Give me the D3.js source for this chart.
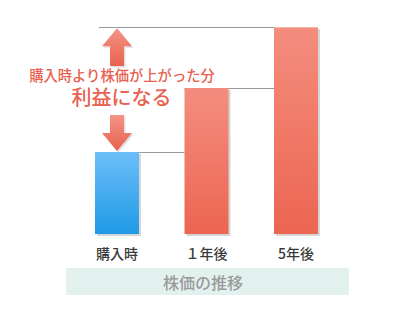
<!DOCTYPE html>
<html>
<head>
<meta charset="utf-8">
<script src="https://cdn.jsdelivr.net/npm/d3@7"></script>
<style>
  body { margin: 0; background: #fff; }
  svg { display: block; font-family: "Noto Sans CJK JP", sans-serif; }
</style>
</head>
<body>
<script>
const categories = ['購入時', '１年後', '5年後'];
const prices = [100, 178, 252];
const noteLines = ['購入時より株価が上がった分', '利益になる'];
const axisTitle = '株価の推移';

const width = 393;
const height = 311;

const svg = d3.select('body').append('svg')
  .attr('width', width)
  .attr('height', height);

const defs = svg.append('defs');

function vGrad(id, top, bottom) {
  const g = defs.append('linearGradient')
    .attr('id', id)
    .attr('x1', 0).attr('y1', 0).attr('x2', 0).attr('y2', 1);
  g.append('stop').attr('offset', '0%').attr('stop-color', top);
  g.append('stop').attr('offset', '100%').attr('stop-color', bottom);
}
vGrad('blue', '#6dbef8', '#1f9ae6');
vGrad('red', '#f48d7e', '#ec6552');
vGrad('arrow', '#f39485', '#e9614f');

const x = d3.scalePoint()
  .domain(categories)
  .range([117, 296]);

const y = d3.scaleLinear()
  .domain([0, 100])
  .range([234, 152]);

const barW = 44;

// guide lines from the top of each bar to the next one
const guides = [
  { x1: x(categories[0]) + barW / 2, x2: x(categories[1]) - barW / 2, v: prices[0] },
  { x1: x(categories[1]) - barW / 2, x2: x(categories[2]) - barW / 2, v: prices[1] },
  { x1: 99, x2: x(categories[2]) - barW / 2, v: prices[2] }
];
svg.append('g').selectAll('line')
  .data(guides)
  .enter().append('line')
    .attr('x1', d => d.x1)
    .attr('x2', d => d.x2)
    .attr('y1', d => Math.round(y(d.v)) + 0.5)
    .attr('y2', d => Math.round(y(d.v)) + 0.5)
    .attr('stroke', '#999')
    .attr('stroke-width', 1);

const bars = svg.append('g');
// soft shadow
bars.selectAll('.shadow')
  .data(prices)
  .enter().append('rect')
    .attr('class', 'shadow')
    .attr('x', (d, i) => x(categories[i]) - barW / 2 + 2)
    .attr('y', d => y(d) + 2)
    .attr('width', barW)
    .attr('height', d => y(0) - y(d))
    .attr('fill', 'rgba(0,0,0,0.16)');

bars.selectAll('.bar')
  .data(prices)
  .enter().append('rect')
    .attr('class', 'bar')
    .attr('x', (d, i) => x(categories[i]) - barW / 2)
    .attr('y', d => y(d))
    .attr('width', barW)
    .attr('height', d => y(0) - y(d))
    .attr('fill', (d, i) => i === 0 ? 'url(#blue)' : 'url(#red)');

// arrows
const ax = x(categories[0]);
function upArrow(tip, base) {
  const hb = tip + 18;
  return `M${ax},${tip} L${ax + 15},${hb} L${ax + 7},${hb} L${ax + 7},${base} L${ax - 7},${base} L${ax - 7},${hb} L${ax - 15},${hb} Z`;
}
function downArrow(top, tip) {
  const hb = tip - 18;
  return `M${ax},${tip} L${ax + 15},${hb} L${ax + 7},${hb} L${ax + 7},${top} L${ax - 7},${top} L${ax - 7},${hb} L${ax - 15},${hb} Z`;
}
const arrows = [upArrow(y(prices[2]) + 1, 66), downArrow(115, y(prices[0]) - 1)];
svg.append('g').selectAll('.ashadow')
  .data(arrows)
  .enter().append('path')
    .attr('d', d => d)
    .attr('transform', 'translate(1.5,1.5)')
    .attr('fill', 'rgba(0,0,0,0.12)');
svg.append('g').selectAll('.arrow')
  .data(arrows)
  .enter().append('path')
    .attr('d', d => d)
    .attr('fill', 'url(#arrow)');

// annotation
svg.append('text')
  .attr('x', 122).attr('y', 80.5)
  .attr('text-anchor', 'middle')
  .attr('font-size', 14.3)
  .attr('font-weight', 500)
  .attr('fill', '#e8604f')
  .text(noteLines[0]);
svg.append('text')
  .attr('x', 121.5).attr('y', 104.5)
  .attr('text-anchor', 'middle')
  .attr('font-size', 20)
  .attr('font-weight', 500)
  .attr('fill', '#e8604f')
  .text(noteLines[1]);

// category labels
svg.append('g').selectAll('text')
  .data(categories)
  .enter().append('text')
    .attr('x', d => x(d))
    .attr('y', 259)
    .attr('text-anchor', 'middle')
    .attr('font-size', 14)
    .attr('font-weight', 500)
    .attr('fill', '#3a3a3a')
    .text(d => d);

// title band
svg.append('rect')
  .attr('x', 66).attr('y', 268)
  .attr('width', 283).attr('height', 27)
  .attr('fill', '#e3f1ee');
svg.append('text')
  .attr('x', 203).attr('y', 289)
  .attr('text-anchor', 'middle')
  .attr('font-size', 16)
  .attr('font-weight', 500)
  .attr('fill', '#9a9a9a')
  .text(axisTitle);
</script>
</body>
</html>
